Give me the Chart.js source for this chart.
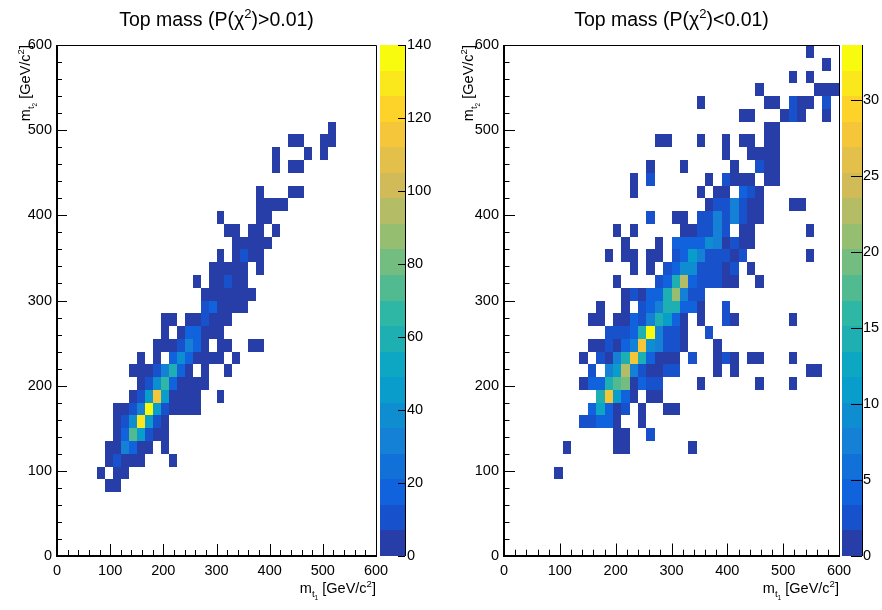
<!DOCTYPE html>
<html>
<head>
<meta charset="utf-8">
<script src="https://cdn.jsdelivr.net/npm/chart.js@4.4.0/dist/chart.umd.min.js"></script>
<style>
  html, body { margin: 0; padding: 0; background: #fff; }
  #wrap { position: relative; width: 882px; height: 610px; }
  .pad { position: absolute; top: 0; width: 441px; height: 610px; }
</style>
</head>
<body>
<div id="wrap">
  <div class="pad" style="left:0"><canvas id="padLeft" width="441" height="610"></canvas></div>
  <div class="pad" style="left:441px"><canvas id="padRight" width="441" height="610"></canvas></div>
</div>
<script>
// --- DATA ---
const BIN = 15;                       // bin width in GeV/c2 (40 x 40 bins over 0-600)
const LEVELS = 20;                    // colour contours
const axisTicks = [0, 100, 200, 300, 400, 500, 600];
const leftZTicks = [0, 20, 40, 60, 80, 100, 120, 140];
const rightZTicks = [0, 5, 10, 15, 20, 25, 30];
const leftZMax = 140;
const rightZMax = 33.6;

// [m_t1 bin low edge, m_t2 bin low edge, entries]
const leftBins = [
  [510,495,3],
  [435,480,3],[450,480,2],[495,480,3],[510,480,4],
  [405,465,3],[465,465,2],[495,465,3],
  [405,450,3],[435,450,3],[450,450,4],
  [375,420,3],[435,420,2],[450,420,3],
  [375,405,3],[390,405,4],[405,405,3],[420,405,2],
  [300,390,2],[375,390,3],[390,390,3],
  [315,375,3],[330,375,4],[360,375,3],[375,375,4],[405,375,2],
  [330,360,4],[345,360,5],[360,360,4],[375,360,3],[390,360,2],
  [300,345,3],[330,345,5],[345,345,10],[360,345,5],[375,345,3],
  [285,330,3],[300,330,5],[315,330,6],[330,330,5],[345,330,4],[375,330,2],
  [255,315,2],[285,315,5],[300,315,6],[315,315,10],[330,315,6],[345,315,4],
  [270,300,5],[285,300,6],[300,300,6],[315,300,6],[330,300,5],[345,300,4],[360,300,3],
  [270,285,10],[285,285,17],[300,285,6],[315,285,5],[330,285,4],[345,285,3],
  [195,270,3],[210,270,4],[240,270,4],[255,270,5],[270,270,11],[285,270,6],[300,270,5],[315,270,3],
  [195,255,3],[225,255,4],[240,255,17],[255,255,18],[270,255,6],[285,255,5],[300,255,3],
  [180,240,3],[195,240,4],[210,240,5],[225,240,10],[240,240,31],[255,240,17],[270,240,5],[300,240,3],[315,240,3],[360,240,2],[375,240,2],
  [150,225,3],[180,225,4],[210,225,17],[225,225,38],[240,225,17],[255,225,6],[270,225,5],[285,225,5],[300,225,3],[330,225,2],
  [135,210,4],[150,210,5],[165,210,6],[180,210,10],[195,210,31],[210,210,59],[225,210,17],[240,210,6],[270,210,3],[315,210,2],
  [150,195,4],[165,195,10],[180,195,38],[195,195,66],[210,195,17],[225,195,6],[240,195,5],[255,195,4],[270,195,3],
  [135,180,5],[150,180,10],[165,180,45],[180,180,115],[195,180,45],[210,180,6],[225,180,5],[240,180,4],[255,180,3],[300,180,2],
  [105,165,4],[120,165,6],[135,165,10],[150,165,31],[165,165,133],[180,165,45],[195,165,10],[210,165,6],[225,165,5],[240,165,4],[255,165,3],
  [105,150,5],[120,150,10],[135,150,38],[150,150,128],[165,150,45],[180,150,10],[195,150,5],
  [105,135,5],[120,135,17],[135,135,73],[150,135,45],[165,135,10],[180,135,6],[195,135,4],
  [90,120,4],[105,120,6],[120,120,31],[135,120,17],[150,120,5],[165,120,4],[195,120,2],
  [90,105,4],[105,105,10],[120,105,5],[135,105,4],[150,105,3],[210,105,2],
  [75,90,2],[105,90,3],[120,90,3],
  [90,75,3],[105,75,3]
];

const rightBins = [
  [540,585,1],
  [570,570,1],
  [510,555,1],[540,555,1],
  [450,540,1],[555,540,1],[570,540,1],[585,540,1],
  [345,525,1],[465,525,1],[480,525,1],[510,525,2],[525,525,1],[540,525,1],[570,525,2],
  [420,510,1],[435,510,1],[495,510,1],[510,510,2],[525,510,1],[570,510,1],
  [465,495,1],[480,495,1],
  [270,480,1],[285,480,1],[345,480,1],[390,480,1],[420,480,1],[435,480,1],[465,480,1],[480,480,1],
  [390,465,1],[435,465,1],[450,465,1],[465,465,1],[480,465,1],
  [255,450,1],[315,450,1],[405,450,1],[450,450,2],[465,450,1],[480,450,1],
  [225,435,1],[255,435,2],[360,435,1],[390,435,2],[405,435,1],[420,435,1],[435,435,1],[465,435,1],[480,435,1],
  [225,420,1],[345,420,1],[375,420,1],[390,420,1],[420,420,4],[435,420,2],[450,420,1],
  [360,405,1],[375,405,2],[390,405,2],[405,405,7],[420,405,2],[435,405,1],[450,405,1],[510,405,1],[525,405,1],
  [255,390,2],[300,390,1],[315,390,1],[345,390,2],[360,390,2],[375,390,7],[390,390,2],[405,390,7],[420,390,2],[435,390,1],[450,390,1],
  [195,375,1],[225,375,1],[315,375,1],[330,375,1],[345,375,2],[360,375,2],[375,375,7],[390,375,2],[420,375,1],[435,375,1],[540,375,1],
  [210,360,1],[270,360,1],[300,360,4],[315,360,4],[330,360,4],[345,360,4],[360,360,9],[375,360,7],[390,360,1],[405,360,2],[420,360,1],[435,360,1],
  [180,345,1],[210,345,1],[225,345,1],[255,345,1],[270,345,1],[300,345,2],[315,345,4],[330,345,11],[345,345,7],[360,345,2],[375,345,2],[390,345,2],[405,345,1],[420,345,2],[540,345,1],
  [225,330,1],[255,330,1],[285,330,2],[300,330,4],[315,330,9],[330,330,9],[345,330,2],[360,330,2],[375,330,2],[390,330,1],[405,330,2],[435,330,1],
  [195,315,1],[270,315,2],[285,315,4],[300,315,14],[315,315,22],[330,315,4],[345,315,2],[360,315,2],[375,315,2],[390,315,1],[405,315,1],[450,315,1],
  [210,300,1],[225,300,2],[240,300,1],[255,300,4],[270,300,4],[285,300,14],[300,300,21],[315,300,7],[330,300,2],[345,300,2],
  [165,285,1],[210,285,1],[240,285,2],[255,285,4],[270,285,7],[285,285,14],[300,285,14],[315,285,4],[330,285,4],[345,285,1],[390,285,2],
  [150,270,1],[165,270,1],[195,270,1],[210,270,1],[225,270,4],[240,270,2],[255,270,7],[270,270,14],[285,270,11],[300,270,4],[315,270,1],[345,270,1],[390,270,2],[405,270,1],[510,270,1],
  [180,255,2],[195,255,2],[210,255,2],[225,255,4],[240,255,14],[255,255,32],[270,255,7],[285,255,2],[300,255,2],[315,255,1],[360,255,2],
  [150,240,1],[165,240,1],[180,240,2],[195,240,1],[210,240,4],[225,240,7],[240,240,27],[255,240,10],[270,240,7],[285,240,2],[300,240,2],[315,240,1],[375,240,1],
  [135,225,1],[165,225,2],[180,225,1],[195,225,7],[210,225,15],[225,225,27],[240,225,14],[255,225,4],[270,225,1],[285,225,1],[300,225,1],[330,225,2],[375,225,1],[390,225,2],[405,225,1],[435,225,1],[450,225,1],[510,225,1],
  [150,210,2],[180,210,7],[195,210,11],[210,210,22],[225,210,7],[240,210,2],[255,210,1],[270,210,1],[285,210,2],[300,210,2],[375,210,1],[405,210,1],[540,210,1],[555,210,1],
  [135,195,1],[150,195,4],[165,195,4],[180,195,14],[195,195,17],[210,195,19],[225,195,1],[240,195,4],[255,195,2],[270,195,2],[345,195,1],[450,195,1],[510,195,1],
  [165,180,14],[180,180,27],[195,180,11],[210,180,4],[225,180,1],[255,180,1],[270,180,1],
  [150,165,4],[165,165,12],[180,165,4],[195,165,1],[210,165,2],[240,165,1],[285,165,1],[300,165,1],
  [135,150,2],[150,150,2],[165,150,4],[180,150,4],[195,150,1],[240,150,1],
  [195,135,1],[210,135,1],[255,135,2],
  [105,120,1],[195,120,1],[210,120,1],[330,120,1],
  [90,90,1]
];

// --- PALETTE (ROOT kBird) ---
const BIRD_STOPS = [0.0000, 0.1250, 0.2500, 0.3750, 0.5000, 0.6250, 0.7500, 0.8750, 1.0000];
const BIRD_R = [0.2082, 0.0592, 0.0780, 0.0232, 0.1802, 0.5301, 0.8186, 0.9956, 0.9764];
const BIRD_G = [0.1664, 0.3599, 0.5041, 0.6419, 0.7178, 0.7492, 0.7328, 0.7862, 0.9832];
const BIRD_B = [0.5293, 0.8684, 0.8385, 0.7914, 0.6425, 0.4662, 0.3499, 0.1968, 0.0539];

function birdColor(t) {
  let s = 1;
  while (s < BIRD_STOPS.length - 1 && t > BIRD_STOPS[s]) s++;
  const f = (t - BIRD_STOPS[s - 1]) / (BIRD_STOPS[s] - BIRD_STOPS[s - 1]);
  const c = arr => Math.round(255 * (arr[s - 1] + f * (arr[s] - arr[s - 1])));
  return `rgb(${c(BIRD_R)},${c(BIRD_G)},${c(BIRD_B)})`;
}
function levelColor(k) {
  const idx = Math.floor((k + 0.99) * 255 / LEVELS);
  return birdColor(Math.min(idx, 254) / 254);
}

const FONT = '"Liberation Sans", Arial, Helvetica, sans-serif';
Chart.defaults.font.family = FONT;

// draws a piece of ROOT-like latex: parts [{t, s: size factor, dy: shift in em}]
function drawRich(ctx, parts, x, y, size, align) {
  let w = 0;
  parts.forEach(p => {
    ctx.font = `${size * (p.s || 1)}px ${FONT}`;
    p.w = ctx.measureText(p.t).width;
    w += p.w;
  });
  let cx = align === 'right' ? x - w : align === 'center' ? x - w / 2 : x;
  ctx.textBaseline = 'alphabetic';
  ctx.textAlign = 'left';
  parts.forEach(p => {
    ctx.font = `${size * (p.s || 1)}px ${FONT}`;
    ctx.fillText(p.t, cx, y + (p.dy || 0) * size);
    cx += p.w;
  });
}

const axisTitleX = [{t: 'm'}, {t: 't', s: 0.67, dy: 0.28}, {t: '1', s: 0.45, dy: 0.45}, {t: ' [GeV/c'}, {t: '2', s: 0.67, dy: -0.42}, {t: ']'}];
const axisTitleY = [{t: 'm'}, {t: 't', s: 0.67, dy: 0.28}, {t: '2', s: 0.45, dy: 0.45}, {t: ' [GeV/c'}, {t: '2', s: 0.67, dy: -0.42}, {t: ']'}];
const titleParts = cmp => [{t: 'Top mass (P('}, {t: 'χ'}, {t: '2', s: 0.67, dy: -0.42}, {t: ')' + cmp + '0.01)'}];

// --- PLUGINS ---
const cellPlugin = {
  id: 'cells',
  beforeDatasetsDraw(chart, args, opts) {
    const {ctx, chartArea: a, scales: {x, y}} = chart;
    ctx.save();
    ctx.beginPath();
    ctx.rect(a.left, a.top, a.right - a.left, a.bottom - a.top);
    ctx.clip();
    chart.data.datasets[0].data.forEach(d => {
      const k = Math.min(LEVELS - 1, Math.floor(d.n / (opts.zMax / LEVELS)));
      const x0 = Math.round(x.getPixelForValue(d.x)), x1 = Math.round(x.getPixelForValue(d.x + BIN));
      const y0 = Math.round(y.getPixelForValue(d.y + BIN)), y1 = Math.round(y.getPixelForValue(d.y));
      ctx.fillStyle = levelColor(k);
      ctx.fillRect(x0, y0, x1 - x0, y1 - y0);
    });
    ctx.restore();
  }
};

const decorPlugin = {
  id: 'decor',
  afterDraw(chart, args, o) {
    const {ctx, chartArea: a, scales: {x, y, z}} = chart;
    ctx.save();
    ctx.strokeStyle = '#000';
    ctx.fillStyle = '#000';

    // frame
    ctx.lineWidth = 1;
    ctx.beginPath();
    ctx.moveTo(a.left, a.top + 0.5); ctx.lineTo(a.right + 0.5, a.top + 0.5); ctx.lineTo(a.right + 0.5, a.bottom);
    ctx.stroke();
    ctx.lineWidth = 2;
    ctx.beginPath();
    ctx.moveTo(a.left, a.top); ctx.lineTo(a.left, a.bottom); ctx.lineTo(a.right + 1, a.bottom);
    ctx.stroke();

    // ticks inside the frame
    ctx.lineWidth = 1;
    ctx.beginPath();
    for (let v = 0; v <= 600; v += 20) {
      const major = v % 100 === 0;
      const px = Math.round(x.getPixelForValue(v)) + 0.5;
      ctx.moveTo(px, a.bottom); ctx.lineTo(px, a.bottom - (major ? o.xMajor : o.xMinor));
      const py = Math.round(y.getPixelForValue(v)) + 0.5;
      ctx.moveTo(a.left, py); ctx.lineTo(a.left + (major ? o.yMajor : o.yMinor), py);
    }
    ctx.stroke();

    // palette
    const p0 = z.left + o.palGap, p1 = p0 + o.palWidth;
    for (let k = 0; k < LEVELS; k++) {
      const yt = Math.round(z.getPixelForValue((k + 1) * o.zMax / LEVELS));
      const yb = Math.round(z.getPixelForValue(k * o.zMax / LEVELS));
      ctx.fillStyle = levelColor(k);
      ctx.fillRect(p0, yt, p1 - p0, yb - yt);
    }
    ctx.fillStyle = '#000';
    ctx.beginPath();
    ctx.moveTo(p1 + 0.5, a.top); ctx.lineTo(p1 + 0.5, a.bottom);
    o.zTicks.forEach(v => {
      const py = Math.round(z.getPixelForValue(v)) + 0.5;
      ctx.moveTo(p1, py); ctx.lineTo(p1 - o.zTickLen, py);
    });
    ctx.stroke();

    // titles
    drawRich(ctx, o.title, (a.left + a.right) / 2, o.titleY, 19.5, 'center');
    drawRich(ctx, axisTitleX, a.right, o.xTitleY, 14.5, 'right');
    ctx.translate(a.left - o.yTitleOff, a.top);
    ctx.rotate(-Math.PI / 2);
    drawRich(ctx, axisTitleY, 0, 0, 14.5, 'right');
    ctx.restore();
  }
};

function makePanel(id, bins, zMax, zTicks, o) {
  const tickFont = {family: FONT, size: 14.5};
  const noGrid = {display: false, drawTicks: false};
  return new Chart(document.getElementById(id), {
    type: 'scatter',
    data: {
      datasets: [{
        data: bins.map(b => ({x: b[0], y: b[1], n: b[2]})),
        pointRadius: 0,
        pointHoverRadius: 0
      }]
    },
    options: {
      responsive: false,
      animation: false,
      devicePixelRatio: 1,
      layout: {padding: {top: 45, left: 0, right: 0, bottom: 0}},
      events: [],
      plugins: {
        legend: {display: false},
        tooltip: {enabled: false},
        cells: {zMax},
        decor: Object.assign({zMax, zTicks}, o)
      },
      scales: {
        x: {
          type: 'linear', position: 'bottom', min: 0, max: 600,
          grid: noGrid, border: {display: false},
          ticks: {color: '#000', font: tickFont, padding: 6, autoSkip: false, maxRotation: 0},
          afterBuildTicks: s => { s.ticks = axisTicks.map(v => ({value: v})); },
          afterFit: s => { s.height = 54; }
        },
        y: {
          type: 'linear', position: 'left', min: 0, max: 600,
          grid: noGrid, border: {display: false},
          ticks: {color: '#000', font: tickFont, padding: 5, autoSkip: false},
          afterBuildTicks: s => { s.ticks = axisTicks.map(v => ({value: v})); },
          afterFit: s => { s.width = o.yWidth; }
        },
        z: {
          type: 'linear', position: 'right', min: 0, max: zMax,
          grid: noGrid, border: {display: false},
          ticks: {color: '#000', font: tickFont, padding: o.zPad, autoSkip: false},
          afterBuildTicks: s => { s.ticks = zTicks.map(v => ({value: v})); },
          afterFit: s => { s.width = o.zWidth; }
        }
      }
    },
    plugins: [cellPlugin, decorPlugin]
  });
}

makePanel('padLeft', leftBins, leftZMax, leftZTicks, {
  yWidth: 57, zWidth: 65, zPad: 31, palGap: 4, palWidth: 25, zTickLen: 7,
  xMajor: 12, xMinor: 6, yMajor: 10, yMinor: 5,
  title: titleParts('>'), titleY: 26, xTitleY: 593, yTitleOff: 27
});
makePanel('padRight', rightBins, rightZMax, rightZTicks, {
  yWidth: 63, zWidth: 43, zPad: 24, palGap: 3, palWidth: 20, zTickLen: 11,
  xMajor: 12.5, xMinor: 6.3, yMajor: 11, yMinor: 5.5,
  title: titleParts('<'), titleY: 26, xTitleY: 593, yTitleOff: 31
});
</script>
</body>
</html>
